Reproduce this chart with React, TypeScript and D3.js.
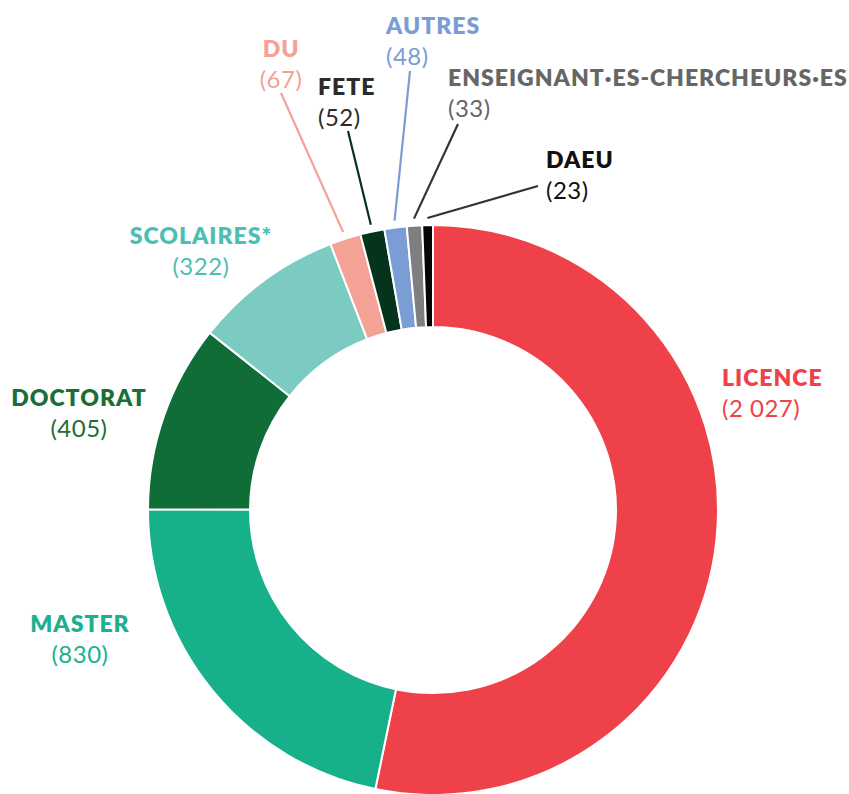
import React from 'react';
import * as d3 from 'd3';

const categories = ['LICENCE', 'MASTER', 'DOCTORAT', 'SCOLAIRES*', 'DU', 'FETE', 'AUTRES', 'ENSEIGNANT·ES-CHERCHEURS·ES', 'DAEU'];
const values = [2027, 830, 405, 322, 67, 52, 48, 33, 23];
const valueLabels = ['(2 027)', '(830)', '(405)', '(322)', '(67)', '(52)', '(48)', '(33)', '(23)'];
const sliceColors = ['#EE4149', '#16B08B', '#116D38', '#7BCBC3', '#F4A196', '#05331C', '#7B9DD6', '#7E7F83', '#050505'];
const textColors = ['#EE4149', '#1DB08D', '#1B6E35', '#4DBFB2', '#F4A196', '#2B2B2B', '#7B9DD6', '#666666', '#111111'];

// label layout: [x, nameY, anchor, leader start x, leader start y, leader color]
const labelLayout: [number, number, string, number | null, number | null, string][] = [
  [722, 378, 'start', null, null, ''],
  [80, 624, 'middle', null, null, ''],
  [79, 398, 'middle', null, null, ''],
  [201, 236, 'middle', null, null, ''],
  [281, 49, 'middle', 281, 93, '#F4A196'],
  [318, 87, 'start', 348, 131, '#05331C'],
  [386, 26, 'start', 410, 71, '#7B9DD6'],
  [448, 78, 'start', 458, 124, '#333333'],
  [546, 160, 'start', 538, 186, '#333333'],
];

const App: React.FC = () => {
  const svgRef = React.useRef<SVGSVGElement>(null);

  React.useEffect(() => {
    if (!svgRef.current) return;
    const svg = d3.select(svgRef.current);
    svg.selectAll('*').remove();

    const cx = 433;
    const cy = 510;
    const outerR = 285;
    const innerR = 183;

    const pie = d3.pie<number>().sort(null).value(d => d)(values);
    const arc = d3.arc<d3.PieArcDatum<number>>().innerRadius(innerR).outerRadius(outerR);

    const g = svg.append('g').attr('transform', `translate(${cx},${cy})`);

    g.selectAll('path')
      .data(pie)
      .enter()
      .append('path')
      .attr('d', arc)
      .attr('fill', (_, i) => sliceColors[i])
      .attr('stroke', '#fff')
      .attr('stroke-width', 2);

    // leader lines
    pie.forEach((p, i) => {
      const [, , , sx, sy, lc] = labelLayout[i];
      if (sx === null || sy === null) return;
      const mid = (p.startAngle + p.endAngle) / 2;
      const r = outerR + 7;
      svg.append('line')
        .attr('x1', sx).attr('y1', sy)
        .attr('x2', cx + Math.sin(mid) * r)
        .attr('y2', cy - Math.cos(mid) * r)
        .attr('stroke', lc)
        .attr('stroke-width', 2.2);
    });

    // labels
    categories.forEach((c, i) => {
      const [lx, ly, anchor] = labelLayout[i];
      const t = svg.append('text')
        .attr('x', lx)
        .attr('text-anchor', anchor)
        .style('font-family', 'Lato, sans-serif')
        .style('fill', textColors[i]);
      t.append('tspan')
        .attr('x', lx)
        .attr('y', ly + 8)
        .style('font-weight', '800')
        .style('font-size', '23px')
        .style('letter-spacing', '1px')
        .text(c);
      t.append('tspan')
        .attr('x', lx)
        .attr('y', ly + 39)
        .style('font-weight', '400')
        .style('font-size', '24px')
        .style('letter-spacing', '0.5px')
        .text(valueLabels[i]);
    });
  }, []);

  return (
    <div style={{ position: 'absolute', left: 0, top: 0, background: '#fff' }}>
      <svg ref={svgRef} width="849" height="794" viewBox="0 0 849 794"></svg>
    </div>
  );
};

export default App;
